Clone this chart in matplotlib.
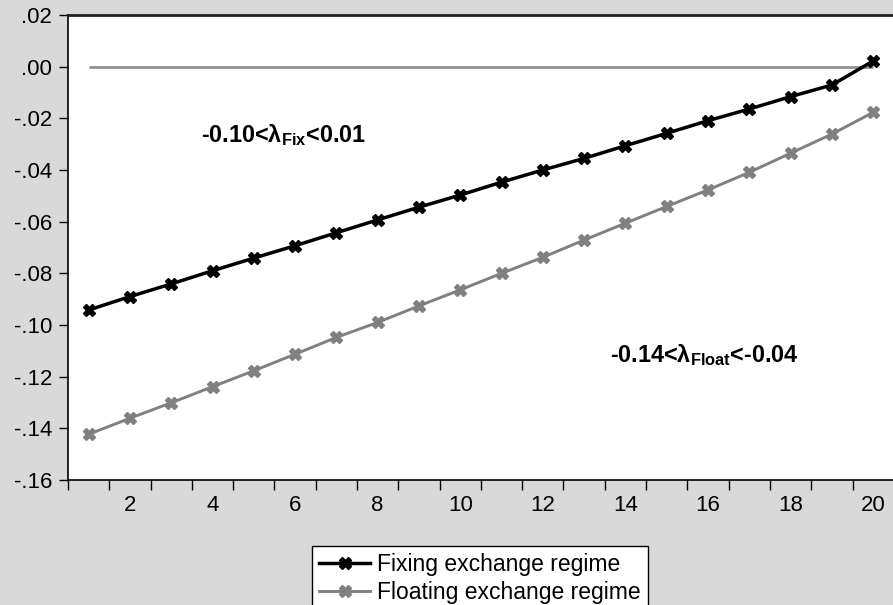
import matplotlib
matplotlib.use("Agg")
import matplotlib.pyplot as plt
from matplotlib.ticker import FixedLocator, FuncFormatter

plt.rcParams['font.family'] = ['Liberation Sans', 'DejaVu Sans']
plt.rcParams['mathtext.fontset'] = 'custom'
plt.rcParams['mathtext.rm'] = 'Liberation Sans'
plt.rcParams['mathtext.bf'] = 'Liberation Sans:bold'
plt.rcParams['mathtext.it'] = 'Liberation Sans:italic'

# ---- data ----
periods = list(range(1, 21))
fixing = [-0.0942, -0.0890, -0.0841, -0.0790, -0.0741, -0.0693, -0.0643, -0.0593,
          -0.0544, -0.0497, -0.0447, -0.0400, -0.0355, -0.0306, -0.0258, -0.0209,
          -0.0164, -0.0116, -0.0071, 0.0022]
floating = [-0.1423, -0.1361, -0.1301, -0.1239, -0.1177, -0.1113, -0.1048, -0.0990,
            -0.0926, -0.0864, -0.0800, -0.0738, -0.0671, -0.0606, -0.0541, -0.0477,
            -0.0409, -0.0335, -0.0261, -0.0177]
series_labels = ["Fixing exchange regime", "Floating exchange regime"]
y_ticks = [0.02, 0.00, -0.02, -0.04, -0.06, -0.08, -0.10, -0.12, -0.14, -0.16]
x_ticks = [2, 4, 6, 8, 10, 12, 14, 16, 18, 20]
x_minor = [i + 0.5 for i in range(0, 21)]
annot_fix = "-0.10<λ$_{\\mathbf{Fix}}$<0.01"
annot_float = "-0.14<λ$_{\\mathbf{Float}}$<-0.04"

W, H = 893, 605
bg = '#d9d9d9'
fig = plt.figure(figsize=(W / 100, H / 100), dpi=100, facecolor=bg)
px = 41.29
ax = fig.add_axes([68 / W, 1 - 480 / H, 20 * px / W, (480 - 15) / H])
ax.set_facecolor('white')

ax.hlines(0, periods[0], periods[-1], color='#939393', lw=2.0, zorder=2)
l1, = ax.plot(periods, fixing, color='black', lw=2.5, marker='X', ms=8,
              mec='black', mfc='black', label=series_labels[0], zorder=4)
l2, = ax.plot(periods, floating, color='#808080', lw=2.1, marker='X', ms=8,
              mec='#808080', mfc='#808080', label=series_labels[1], zorder=3)

ax.set_xlim(0.5, 20.5)
ax.set_ylim(-0.16, 0.02)

ax.yaxis.set_major_locator(FixedLocator(y_ticks))
def yfmt(v, pos):
    s = f"{v:.2f}"
    if s.startswith("-0"):
        s = "-" + s[2:]
    elif s.startswith("0"):
        s = s[1:]
    if s == "-.00":
        s = ".00"
    return s
ax.yaxis.set_major_formatter(FuncFormatter(yfmt))
ax.tick_params(axis='y', which='major', direction='out', length=6.5, width=1,
               pad=5, labelsize=16, color='black')

ax.xaxis.set_major_locator(FixedLocator(x_ticks))
ax.xaxis.set_minor_locator(FixedLocator(x_minor))
ax.tick_params(axis='x', which='major', length=0, pad=11, labelsize=16)
ax.tick_params(axis='x', which='minor', direction='out', length=7, width=1, color='black')

for s in ['left', 'bottom']:
    ax.spines[s].set_color('black')
    ax.spines[s].set_linewidth(1.2)
ax.spines['top'].set_color('#222222')
ax.spines['top'].set_linewidth(2.0)
ax.spines['right'].set_visible(False)

ax.text(3.73, -0.0265, annot_fix, fontsize=16.8, fontweight='bold', ha='left', va='center')
ax.text(13.62, -0.1117, annot_float, fontsize=16.8, fontweight='bold', ha='left', va='center')

leg = fig.legend(handles=[l1, l2], loc='upper left',
                 bbox_to_anchor=(312 / W, 1 - 546 / H), fontsize=16.5,
                 frameon=True, fancybox=False, edgecolor='black', facecolor='white',
                 framealpha=1, borderpad=0.32, labelspacing=0.2, handlelength=2.2,
                 handletextpad=0.3, borderaxespad=0, numpoints=1)
leg.get_frame().set_linewidth(1.0)

fig.savefig('out.png', dpi=100, facecolor=bg)
